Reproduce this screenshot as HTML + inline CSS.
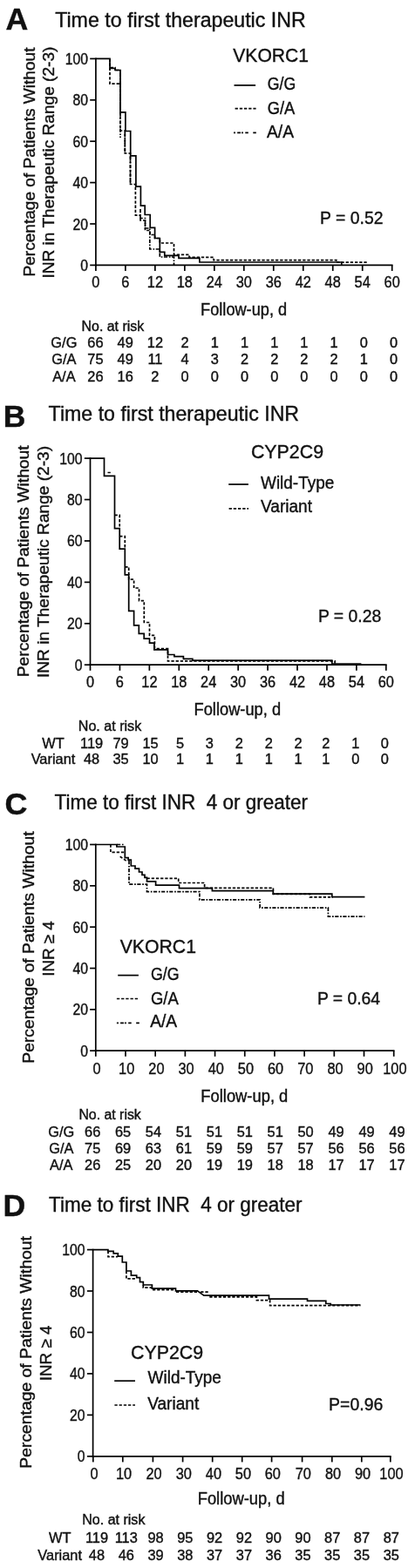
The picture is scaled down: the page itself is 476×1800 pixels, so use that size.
<!DOCTYPE html>
<html lang="en"><head><meta charset="utf-8"><title>Figure</title>
<style>
html,body{margin:0;padding:0;background:#fff;}
svg{display:block;}
text{font-family:"Liberation Sans", Arial, sans-serif;fill:#111;stroke:#111;stroke-width:0.4;}
line,path{stroke:#000;fill:none;stroke-linecap:butt;stroke-linejoin:miter;}
</style></head><body>
<svg width="476" height="1800" viewBox="0 0 476 1800">
<rect x="0" y="0" width="476" height="1800" fill="#ffffff" stroke="none"/>
<text x="6.6" y="34.4" font-size="34.3" font-weight="bold" textLength="25.8" lengthAdjust="spacingAndGlyphs">A</text>
<text x="63.2" y="30.8" font-size="23.93" textLength="287.5" lengthAdjust="spacingAndGlyphs">Time to first therapeutic INR</text>
<text transform="translate(39.6 186) rotate(-90)" font-size="19.0" text-anchor="middle" textLength="263" lengthAdjust="spacingAndGlyphs">Percentage of Patients Without</text>
<text transform="translate(62 186.6) rotate(-90)" font-size="19.0" text-anchor="middle" textLength="266" lengthAdjust="spacingAndGlyphs">INR in Therapeutic Range (2-3)</text>
<line x1="109.9" y1="66.55000000000001" x2="109.9" y2="305.25" stroke-width="1.7"/>
<line x1="109.05000000000001" y1="304.4" x2="450.55" y2="304.4" stroke-width="1.7"/>
<line x1="103.2" y1="67.4" x2="109.9" y2="67.4" stroke-width="1.7"/>
<text x="101.0" y="73.9" font-size="17.49" text-anchor="end" textLength="26.26" lengthAdjust="spacingAndGlyphs">100</text>
<line x1="103.2" y1="114.8" x2="109.9" y2="114.8" stroke-width="1.7"/>
<text x="101.0" y="121.3" font-size="17.49" text-anchor="end" textLength="17.51" lengthAdjust="spacingAndGlyphs">80</text>
<line x1="103.2" y1="162.2" x2="109.9" y2="162.2" stroke-width="1.7"/>
<text x="101.0" y="168.7" font-size="17.49" text-anchor="end" textLength="17.51" lengthAdjust="spacingAndGlyphs">60</text>
<line x1="103.2" y1="209.6" x2="109.9" y2="209.6" stroke-width="1.7"/>
<text x="101.0" y="216.1" font-size="17.49" text-anchor="end" textLength="17.51" lengthAdjust="spacingAndGlyphs">40</text>
<line x1="103.2" y1="257.0" x2="109.9" y2="257.0" stroke-width="1.7"/>
<text x="101.0" y="263.5" font-size="17.49" text-anchor="end" textLength="17.51" lengthAdjust="spacingAndGlyphs">20</text>
<line x1="103.2" y1="304.4" x2="109.9" y2="304.4" stroke-width="1.7"/>
<text x="101.0" y="310.9" font-size="17.49" text-anchor="end" textLength="8.75" lengthAdjust="spacingAndGlyphs">0</text>
<line x1="109.9" y1="304.4" x2="109.9" y2="311.0" stroke-width="1.7"/>
<text x="109.9" y="330.2" font-size="18.15" text-anchor="middle" textLength="9.09" lengthAdjust="spacingAndGlyphs">0</text>
<line x1="143.88" y1="304.4" x2="143.88" y2="311.0" stroke-width="1.7"/>
<text x="143.9" y="330.2" font-size="18.15" text-anchor="middle" textLength="9.09" lengthAdjust="spacingAndGlyphs">6</text>
<line x1="177.86" y1="304.4" x2="177.86" y2="311.0" stroke-width="1.7"/>
<text x="177.9" y="330.2" font-size="18.15" text-anchor="middle" textLength="18.17" lengthAdjust="spacingAndGlyphs">12</text>
<line x1="211.83999999999997" y1="304.4" x2="211.83999999999997" y2="311.0" stroke-width="1.7"/>
<text x="211.8" y="330.2" font-size="18.15" text-anchor="middle" textLength="18.17" lengthAdjust="spacingAndGlyphs">18</text>
<line x1="245.82" y1="304.4" x2="245.82" y2="311.0" stroke-width="1.7"/>
<text x="245.8" y="330.2" font-size="18.15" text-anchor="middle" textLength="18.17" lengthAdjust="spacingAndGlyphs">24</text>
<line x1="279.79999999999995" y1="304.4" x2="279.79999999999995" y2="311.0" stroke-width="1.7"/>
<text x="279.8" y="330.2" font-size="18.15" text-anchor="middle" textLength="18.17" lengthAdjust="spacingAndGlyphs">30</text>
<line x1="313.78" y1="304.4" x2="313.78" y2="311.0" stroke-width="1.7"/>
<text x="313.8" y="330.2" font-size="18.15" text-anchor="middle" textLength="18.17" lengthAdjust="spacingAndGlyphs">36</text>
<line x1="347.76" y1="304.4" x2="347.76" y2="311.0" stroke-width="1.7"/>
<text x="347.8" y="330.2" font-size="18.15" text-anchor="middle" textLength="18.17" lengthAdjust="spacingAndGlyphs">42</text>
<line x1="381.74" y1="304.4" x2="381.74" y2="311.0" stroke-width="1.7"/>
<text x="381.7" y="330.2" font-size="18.15" text-anchor="middle" textLength="18.17" lengthAdjust="spacingAndGlyphs">48</text>
<line x1="415.72" y1="304.4" x2="415.72" y2="311.0" stroke-width="1.7"/>
<text x="415.7" y="330.2" font-size="18.15" text-anchor="middle" textLength="18.17" lengthAdjust="spacingAndGlyphs">54</text>
<line x1="449.69999999999993" y1="304.4" x2="449.69999999999993" y2="311.0" stroke-width="1.7"/>
<text x="449.7" y="330.2" font-size="18.15" text-anchor="middle" textLength="18.17" lengthAdjust="spacingAndGlyphs">60</text>
<text x="279.6" y="362.2" font-size="19.8" text-anchor="middle" textLength="99" lengthAdjust="spacingAndGlyphs">Follow-up, d</text>
<text x="267.3" y="70.8" font-size="22.88" textLength="86.8" lengthAdjust="spacingAndGlyphs">VKORC1</text>
<line x1="268.5" y1="97.9" x2="293.1" y2="97.9" stroke-width="1.7"/>
<line x1="269.6" y1="124.6" x2="293.6" y2="124.6" stroke-width="1.7" stroke-dasharray="3.3 1.9"/>
<line x1="268" y1="152.4" x2="293.8" y2="152.4" stroke-width="1.7" stroke-dasharray="2 2.2 3.8 1 2 2.3 3.5 5.5 3.6 2"/>
<text x="306.8" y="103" font-size="19.8" textLength="32.4" lengthAdjust="spacingAndGlyphs">G/G</text>
<text x="306.8" y="130.5" font-size="19.8" textLength="31.5" lengthAdjust="spacingAndGlyphs">G/A</text>
<text x="306.0" y="157.6" font-size="19.8" textLength="31" lengthAdjust="spacingAndGlyphs">A/A</text>
<text x="367.1" y="256.5" font-size="21.01" textLength="72.4" lengthAdjust="spacingAndGlyphs">P = 0.52</text>
<path d="M110,67.4 H126 V78.5 H132 V80.5 H138 V128.8 H143.9 V150.5 H149.7 V178.8 H155.9 V214.1 H161.4 V236.1 H166.2 V246.5 H172.2 V261.3 H177.6 V273.5 H183.3 V289.3 H188.8 V293.3 H205 V296.4 H228.9 V301 H391.8 V304" stroke-width="1.7"/>
<path d="M126,67.4 V96.2 H138 V150 H143.3 V176 H149.5 V211.5 H155.4 V247.2 H161 V253 H166.5 V264.5 H172 V269.5 H177.6 V273.5 H183.4 V279 H199.5 V292.3 H217 V295.3 H245 V298.6 H385.8 V301.2 H421.7" stroke-width="1.7" stroke-dasharray="3.3 1.9"/>
<path d="M126,77.6 H132 V80.5 H138 V158 M143.3,152 V176 M149.5,180 V210 M161,240 V250.5 H166.5 V262 H171.8 V286 H183.3 V295 H199.5 V304" stroke-width="1.7" stroke-dasharray="4.2 1.7 1.7 1.5"/>
<text x="93.6" y="379.6" font-size="15.84" textLength="71.6" lengthAdjust="spacingAndGlyphs">No. at risk</text>
<text x="73.4" y="399.1" font-size="16.38" text-anchor="middle" textLength="30.03" lengthAdjust="spacingAndGlyphs">G/G</text>
<text x="109.5" y="399.1" font-size="16.38" text-anchor="middle" textLength="18.22" lengthAdjust="spacingAndGlyphs">66</text>
<text x="143.7" y="399.1" font-size="16.38" text-anchor="middle" textLength="18.22" lengthAdjust="spacingAndGlyphs">49</text>
<text x="177.9" y="399.1" font-size="16.38" text-anchor="middle" textLength="18.22" lengthAdjust="spacingAndGlyphs">12</text>
<text x="212.1" y="399.1" font-size="16.38" text-anchor="middle" textLength="9.11" lengthAdjust="spacingAndGlyphs">2</text>
<text x="246.3" y="399.1" font-size="16.38" text-anchor="middle" textLength="9.11" lengthAdjust="spacingAndGlyphs">1</text>
<text x="280.5" y="399.1" font-size="16.38" text-anchor="middle" textLength="9.11" lengthAdjust="spacingAndGlyphs">1</text>
<text x="314.7" y="399.1" font-size="16.38" text-anchor="middle" textLength="9.11" lengthAdjust="spacingAndGlyphs">1</text>
<text x="348.9" y="399.1" font-size="16.38" text-anchor="middle" textLength="9.11" lengthAdjust="spacingAndGlyphs">1</text>
<text x="383.1" y="399.1" font-size="16.38" text-anchor="middle" textLength="9.11" lengthAdjust="spacingAndGlyphs">1</text>
<text x="417.3" y="399.1" font-size="16.38" text-anchor="middle" textLength="9.11" lengthAdjust="spacingAndGlyphs">0</text>
<text x="451.5" y="399.1" font-size="16.38" text-anchor="middle" textLength="9.11" lengthAdjust="spacingAndGlyphs">0</text>
<text x="73.4" y="418.4" font-size="16.38" text-anchor="middle" textLength="28.22" lengthAdjust="spacingAndGlyphs">G/A</text>
<text x="109.5" y="418.4" font-size="16.38" text-anchor="middle" textLength="18.22" lengthAdjust="spacingAndGlyphs">75</text>
<text x="143.7" y="418.4" font-size="16.38" text-anchor="middle" textLength="18.22" lengthAdjust="spacingAndGlyphs">49</text>
<text x="177.9" y="418.4" font-size="16.38" text-anchor="middle" textLength="17.0" lengthAdjust="spacingAndGlyphs">11</text>
<text x="212.1" y="418.4" font-size="16.38" text-anchor="middle" textLength="9.11" lengthAdjust="spacingAndGlyphs">4</text>
<text x="246.3" y="418.4" font-size="16.38" text-anchor="middle" textLength="9.11" lengthAdjust="spacingAndGlyphs">3</text>
<text x="280.5" y="418.4" font-size="16.38" text-anchor="middle" textLength="9.11" lengthAdjust="spacingAndGlyphs">2</text>
<text x="314.7" y="418.4" font-size="16.38" text-anchor="middle" textLength="9.11" lengthAdjust="spacingAndGlyphs">2</text>
<text x="348.9" y="418.4" font-size="16.38" text-anchor="middle" textLength="9.11" lengthAdjust="spacingAndGlyphs">2</text>
<text x="383.1" y="418.4" font-size="16.38" text-anchor="middle" textLength="9.11" lengthAdjust="spacingAndGlyphs">2</text>
<text x="417.3" y="418.4" font-size="16.38" text-anchor="middle" textLength="9.11" lengthAdjust="spacingAndGlyphs">1</text>
<text x="451.5" y="418.4" font-size="16.38" text-anchor="middle" textLength="9.11" lengthAdjust="spacingAndGlyphs">0</text>
<text x="73.4" y="437.8" font-size="16.38" text-anchor="middle" textLength="26.4" lengthAdjust="spacingAndGlyphs">A/A</text>
<text x="109.5" y="437.8" font-size="16.38" text-anchor="middle" textLength="18.22" lengthAdjust="spacingAndGlyphs">26</text>
<text x="143.7" y="437.8" font-size="16.38" text-anchor="middle" textLength="18.22" lengthAdjust="spacingAndGlyphs">16</text>
<text x="177.9" y="437.8" font-size="16.38" text-anchor="middle" textLength="9.11" lengthAdjust="spacingAndGlyphs">2</text>
<text x="212.1" y="437.8" font-size="16.38" text-anchor="middle" textLength="9.11" lengthAdjust="spacingAndGlyphs">0</text>
<text x="246.3" y="437.8" font-size="16.38" text-anchor="middle" textLength="9.11" lengthAdjust="spacingAndGlyphs">0</text>
<text x="280.5" y="437.8" font-size="16.38" text-anchor="middle" textLength="9.11" lengthAdjust="spacingAndGlyphs">0</text>
<text x="314.7" y="437.8" font-size="16.38" text-anchor="middle" textLength="9.11" lengthAdjust="spacingAndGlyphs">0</text>
<text x="348.9" y="437.8" font-size="16.38" text-anchor="middle" textLength="9.11" lengthAdjust="spacingAndGlyphs">0</text>
<text x="383.1" y="437.8" font-size="16.38" text-anchor="middle" textLength="9.11" lengthAdjust="spacingAndGlyphs">0</text>
<text x="417.3" y="437.8" font-size="16.38" text-anchor="middle" textLength="9.11" lengthAdjust="spacingAndGlyphs">0</text>
<text x="451.5" y="437.8" font-size="16.38" text-anchor="middle" textLength="9.11" lengthAdjust="spacingAndGlyphs">0</text>
<text x="3.8" y="489.7" font-size="34.8" font-weight="bold" textLength="25.63" lengthAdjust="spacingAndGlyphs">B</text>
<text x="55.6" y="483.1" font-size="23.93" textLength="287.5" lengthAdjust="spacingAndGlyphs">Time to first therapeutic INR</text>
<text transform="translate(33.2 644.3) rotate(-90)" font-size="19.0" text-anchor="middle" textLength="266" lengthAdjust="spacingAndGlyphs">Percentage of Patients Without</text>
<text transform="translate(55.6 645) rotate(-90)" font-size="19.0" text-anchor="middle" textLength="266" lengthAdjust="spacingAndGlyphs">INR in Therapeutic Range (2-3)</text>
<line x1="103.5" y1="525.25" x2="103.5" y2="764.0500000000001" stroke-width="1.7"/>
<line x1="102.65" y1="763.2" x2="443.65000000000003" y2="763.2" stroke-width="1.7"/>
<line x1="96.8" y1="526.1" x2="103.5" y2="526.1" stroke-width="1.7"/>
<text x="94.60000000000001" y="532.6" font-size="17.49" text-anchor="end" textLength="26.26" lengthAdjust="spacingAndGlyphs">100</text>
<line x1="96.8" y1="573.52" x2="103.5" y2="573.52" stroke-width="1.7"/>
<text x="94.60000000000001" y="580.0" font-size="17.49" text-anchor="end" textLength="17.51" lengthAdjust="spacingAndGlyphs">80</text>
<line x1="96.8" y1="620.94" x2="103.5" y2="620.94" stroke-width="1.7"/>
<text x="94.60000000000001" y="627.4" font-size="17.49" text-anchor="end" textLength="17.51" lengthAdjust="spacingAndGlyphs">60</text>
<line x1="96.8" y1="668.36" x2="103.5" y2="668.36" stroke-width="1.7"/>
<text x="94.60000000000001" y="674.9" font-size="17.49" text-anchor="end" textLength="17.51" lengthAdjust="spacingAndGlyphs">40</text>
<line x1="96.8" y1="715.78" x2="103.5" y2="715.78" stroke-width="1.7"/>
<text x="94.60000000000001" y="722.3" font-size="17.49" text-anchor="end" textLength="17.51" lengthAdjust="spacingAndGlyphs">20</text>
<line x1="96.8" y1="763.2" x2="103.5" y2="763.2" stroke-width="1.7"/>
<text x="94.60000000000001" y="769.7" font-size="17.49" text-anchor="end" textLength="8.75" lengthAdjust="spacingAndGlyphs">0</text>
<line x1="103.5" y1="763.2" x2="103.5" y2="769.8000000000001" stroke-width="1.7"/>
<text x="103.5" y="788.5" font-size="18.15" text-anchor="middle" textLength="9.09" lengthAdjust="spacingAndGlyphs">0</text>
<line x1="137.43" y1="763.2" x2="137.43" y2="769.8000000000001" stroke-width="1.7"/>
<text x="137.4" y="788.5" font-size="18.15" text-anchor="middle" textLength="9.09" lengthAdjust="spacingAndGlyphs">6</text>
<line x1="171.36" y1="763.2" x2="171.36" y2="769.8000000000001" stroke-width="1.7"/>
<text x="171.4" y="788.5" font-size="18.15" text-anchor="middle" textLength="18.17" lengthAdjust="spacingAndGlyphs">12</text>
<line x1="205.29000000000002" y1="763.2" x2="205.29000000000002" y2="769.8000000000001" stroke-width="1.7"/>
<text x="205.3" y="788.5" font-size="18.15" text-anchor="middle" textLength="18.17" lengthAdjust="spacingAndGlyphs">18</text>
<line x1="239.22" y1="763.2" x2="239.22" y2="769.8000000000001" stroke-width="1.7"/>
<text x="239.2" y="788.5" font-size="18.15" text-anchor="middle" textLength="18.17" lengthAdjust="spacingAndGlyphs">24</text>
<line x1="273.15" y1="763.2" x2="273.15" y2="769.8000000000001" stroke-width="1.7"/>
<text x="273.1" y="788.5" font-size="18.15" text-anchor="middle" textLength="18.17" lengthAdjust="spacingAndGlyphs">30</text>
<line x1="307.08000000000004" y1="763.2" x2="307.08000000000004" y2="769.8000000000001" stroke-width="1.7"/>
<text x="307.1" y="788.5" font-size="18.15" text-anchor="middle" textLength="18.17" lengthAdjust="spacingAndGlyphs">36</text>
<line x1="341.01" y1="763.2" x2="341.01" y2="769.8000000000001" stroke-width="1.7"/>
<text x="341.0" y="788.5" font-size="18.15" text-anchor="middle" textLength="18.17" lengthAdjust="spacingAndGlyphs">42</text>
<line x1="374.94" y1="763.2" x2="374.94" y2="769.8000000000001" stroke-width="1.7"/>
<text x="374.9" y="788.5" font-size="18.15" text-anchor="middle" textLength="18.17" lengthAdjust="spacingAndGlyphs">48</text>
<line x1="408.87" y1="763.2" x2="408.87" y2="769.8000000000001" stroke-width="1.7"/>
<text x="408.9" y="788.5" font-size="18.15" text-anchor="middle" textLength="18.17" lengthAdjust="spacingAndGlyphs">54</text>
<line x1="442.8" y1="763.2" x2="442.8" y2="769.8000000000001" stroke-width="1.7"/>
<text x="442.8" y="788.5" font-size="18.15" text-anchor="middle" textLength="18.17" lengthAdjust="spacingAndGlyphs">60</text>
<text x="272.3" y="821.3" font-size="19.8" text-anchor="middle" textLength="99.5" lengthAdjust="spacingAndGlyphs">Follow-up, d</text>
<text x="287.9" y="526.3" font-size="22.88" textLength="83.2" lengthAdjust="spacingAndGlyphs">CYP2C9</text>
<line x1="262.2" y1="556" x2="284.9" y2="556" stroke-width="1.7"/>
<line x1="262.6" y1="583.8" x2="285" y2="583.8" stroke-width="1.7" stroke-dasharray="3.3 1.9"/>
<text x="299" y="560.6" font-size="20.24" textLength="84.3" lengthAdjust="spacingAndGlyphs">Wild-Type</text>
<text x="299" y="588.3" font-size="20.24" textLength="59" lengthAdjust="spacingAndGlyphs">Variant</text>
<text x="364.9" y="714.0" font-size="21.01" textLength="72.4" lengthAdjust="spacingAndGlyphs">P = 0.28</text>
<path d="M103.5,526.1 H119.5 V546.4 H131.5 V606.6 H137.2 V630.1 H143.3 V659.8 H147.7 V701.3 H153.6 V717.8 H159.3 V727.3 H165.2 V733.2 H171.5 V738.2 H176.9 V745.8 H192.5 V751.5 H199.9 V753.6 H210.4 V756.3 H220.9 V758.1 H380.8 V762 H414.4" stroke-width="1.7"/>
<path d="M123.5,542.5 H127 M131.5,591.4 H137.2 V606.6 M137.2,615.6 H143.3 V630 M143.3,650.8 H147.7 V665.2 H153.6 V675 H159.5 V689.6 H165.3 V714.5 H171.5 V729.4 H177.4 V744.5 H192.5 V758.9 H384.1 V763" stroke-width="1.7" stroke-dasharray="3.3 1.9"/>
<text x="89.8" y="838.9" font-size="15.84" textLength="72.4" lengthAdjust="spacingAndGlyphs">No. at risk</text>
<text x="61" y="859.0" font-size="16.38" text-anchor="middle" textLength="25.47" lengthAdjust="spacingAndGlyphs">WT</text>
<text x="105.1" y="859.0" font-size="16.38" text-anchor="middle" textLength="26.11" lengthAdjust="spacingAndGlyphs">119</text>
<text x="138.6" y="859.0" font-size="16.38" text-anchor="middle" textLength="18.22" lengthAdjust="spacingAndGlyphs">79</text>
<text x="172.6" y="859.0" font-size="16.38" text-anchor="middle" textLength="18.22" lengthAdjust="spacingAndGlyphs">15</text>
<text x="206.5" y="859.0" font-size="16.38" text-anchor="middle" textLength="9.11" lengthAdjust="spacingAndGlyphs">5</text>
<text x="240.4" y="859.0" font-size="16.38" text-anchor="middle" textLength="9.11" lengthAdjust="spacingAndGlyphs">3</text>
<text x="274.3" y="859.0" font-size="16.38" text-anchor="middle" textLength="9.11" lengthAdjust="spacingAndGlyphs">2</text>
<text x="308.3" y="859.0" font-size="16.38" text-anchor="middle" textLength="9.11" lengthAdjust="spacingAndGlyphs">2</text>
<text x="342.0" y="859.0" font-size="16.38" text-anchor="middle" textLength="9.11" lengthAdjust="spacingAndGlyphs">2</text>
<text x="373.9" y="859.0" font-size="16.38" text-anchor="middle" textLength="9.11" lengthAdjust="spacingAndGlyphs">2</text>
<text x="407.7" y="859.0" font-size="16.38" text-anchor="middle" textLength="9.11" lengthAdjust="spacingAndGlyphs">1</text>
<text x="441.4" y="859.0" font-size="16.38" text-anchor="middle" textLength="9.11" lengthAdjust="spacingAndGlyphs">0</text>
<text x="61" y="877" font-size="16.38" text-anchor="middle" textLength="50.69" lengthAdjust="spacingAndGlyphs">Variant</text>
<text x="105.1" y="877" font-size="16.38" text-anchor="middle" textLength="18.22" lengthAdjust="spacingAndGlyphs">48</text>
<text x="138.6" y="877" font-size="16.38" text-anchor="middle" textLength="18.22" lengthAdjust="spacingAndGlyphs">35</text>
<text x="172.6" y="877" font-size="16.38" text-anchor="middle" textLength="18.22" lengthAdjust="spacingAndGlyphs">10</text>
<text x="206.5" y="877" font-size="16.38" text-anchor="middle" textLength="9.11" lengthAdjust="spacingAndGlyphs">1</text>
<text x="240.4" y="877" font-size="16.38" text-anchor="middle" textLength="9.11" lengthAdjust="spacingAndGlyphs">1</text>
<text x="274.3" y="877" font-size="16.38" text-anchor="middle" textLength="9.11" lengthAdjust="spacingAndGlyphs">1</text>
<text x="308.3" y="877" font-size="16.38" text-anchor="middle" textLength="9.11" lengthAdjust="spacingAndGlyphs">1</text>
<text x="342.0" y="877" font-size="16.38" text-anchor="middle" textLength="9.11" lengthAdjust="spacingAndGlyphs">1</text>
<text x="373.9" y="877" font-size="16.38" text-anchor="middle" textLength="9.11" lengthAdjust="spacingAndGlyphs">1</text>
<text x="407.7" y="877" font-size="16.38" text-anchor="middle" textLength="9.11" lengthAdjust="spacingAndGlyphs">0</text>
<text x="441.4" y="877" font-size="16.38" text-anchor="middle" textLength="9.11" lengthAdjust="spacingAndGlyphs">0</text>
<text x="5.6" y="935.2" font-size="35.2" font-weight="bold" textLength="25.93" lengthAdjust="spacingAndGlyphs">C</text>
<text x="62.5" y="929.0" font-size="23.93" textLength="290.5" lengthAdjust="spacingAndGlyphs">Time to first INR  4 or greater</text>
<text transform="translate(39.3 1087.5) rotate(-90)" font-size="19.0" text-anchor="middle" textLength="266.5" lengthAdjust="spacingAndGlyphs">Percentage of Patients Without</text>
<text transform="translate(62.4 1089) rotate(-90)" font-size="19.0" text-anchor="middle" textLength="63.5" lengthAdjust="spacingAndGlyphs">INR ≥ 4</text>
<line x1="109.8" y1="968.65" x2="109.8" y2="1207.05" stroke-width="1.7"/>
<line x1="108.95" y1="1206.2" x2="452.55" y2="1206.2" stroke-width="1.7"/>
<line x1="103.1" y1="969.5" x2="109.8" y2="969.5" stroke-width="1.7"/>
<text x="101.0" y="976.0" font-size="17.49" text-anchor="end" textLength="26.26" lengthAdjust="spacingAndGlyphs">100</text>
<line x1="103.1" y1="1016.84" x2="109.8" y2="1016.84" stroke-width="1.7"/>
<text x="101.0" y="1023.3" font-size="17.49" text-anchor="end" textLength="17.51" lengthAdjust="spacingAndGlyphs">80</text>
<line x1="103.1" y1="1064.18" x2="109.8" y2="1064.18" stroke-width="1.7"/>
<text x="101.0" y="1070.7" font-size="17.49" text-anchor="end" textLength="17.51" lengthAdjust="spacingAndGlyphs">60</text>
<line x1="103.1" y1="1111.52" x2="109.8" y2="1111.52" stroke-width="1.7"/>
<text x="101.0" y="1118.0" font-size="17.49" text-anchor="end" textLength="17.51" lengthAdjust="spacingAndGlyphs">40</text>
<line x1="103.1" y1="1158.8600000000001" x2="109.8" y2="1158.8600000000001" stroke-width="1.7"/>
<text x="101.0" y="1165.4" font-size="17.49" text-anchor="end" textLength="17.51" lengthAdjust="spacingAndGlyphs">20</text>
<line x1="103.1" y1="1206.2" x2="109.8" y2="1206.2" stroke-width="1.7"/>
<text x="101.0" y="1212.7" font-size="17.49" text-anchor="end" textLength="8.75" lengthAdjust="spacingAndGlyphs">0</text>
<line x1="109.8" y1="1206.2" x2="109.8" y2="1212.8" stroke-width="1.7"/>
<text x="111.0" y="1232.6" font-size="18.15" text-anchor="middle" textLength="9.09" lengthAdjust="spacingAndGlyphs">0</text>
<line x1="143.99" y1="1206.2" x2="143.99" y2="1212.8" stroke-width="1.7"/>
<text x="145.2" y="1232.6" font-size="18.15" text-anchor="middle" textLength="18.17" lengthAdjust="spacingAndGlyphs">10</text>
<line x1="178.18" y1="1206.2" x2="178.18" y2="1212.8" stroke-width="1.7"/>
<text x="179.4" y="1232.6" font-size="18.15" text-anchor="middle" textLength="18.17" lengthAdjust="spacingAndGlyphs">20</text>
<line x1="212.36999999999998" y1="1206.2" x2="212.36999999999998" y2="1212.8" stroke-width="1.7"/>
<text x="213.6" y="1232.6" font-size="18.15" text-anchor="middle" textLength="18.17" lengthAdjust="spacingAndGlyphs">30</text>
<line x1="246.56" y1="1206.2" x2="246.56" y2="1212.8" stroke-width="1.7"/>
<text x="247.8" y="1232.6" font-size="18.15" text-anchor="middle" textLength="18.17" lengthAdjust="spacingAndGlyphs">40</text>
<line x1="280.75" y1="1206.2" x2="280.75" y2="1212.8" stroke-width="1.7"/>
<text x="281.9" y="1232.6" font-size="18.15" text-anchor="middle" textLength="18.17" lengthAdjust="spacingAndGlyphs">50</text>
<line x1="314.93999999999994" y1="1206.2" x2="314.93999999999994" y2="1212.8" stroke-width="1.7"/>
<text x="316.1" y="1232.6" font-size="18.15" text-anchor="middle" textLength="18.17" lengthAdjust="spacingAndGlyphs">60</text>
<line x1="349.13" y1="1206.2" x2="349.13" y2="1212.8" stroke-width="1.7"/>
<text x="350.3" y="1232.6" font-size="18.15" text-anchor="middle" textLength="18.17" lengthAdjust="spacingAndGlyphs">70</text>
<line x1="383.32" y1="1206.2" x2="383.32" y2="1212.8" stroke-width="1.7"/>
<text x="384.5" y="1232.6" font-size="18.15" text-anchor="middle" textLength="18.17" lengthAdjust="spacingAndGlyphs">80</text>
<line x1="417.51" y1="1206.2" x2="417.51" y2="1212.8" stroke-width="1.7"/>
<text x="418.7" y="1232.6" font-size="18.15" text-anchor="middle" textLength="18.17" lengthAdjust="spacingAndGlyphs">90</text>
<line x1="451.7" y1="1206.2" x2="451.7" y2="1212.8" stroke-width="1.7"/>
<text x="452.9" y="1232.6" font-size="18.15" text-anchor="middle" textLength="27.26" lengthAdjust="spacingAndGlyphs">100</text>
<text x="280.3" y="1264.9" font-size="19.8" text-anchor="middle" textLength="100" lengthAdjust="spacingAndGlyphs">Follow-up, d</text>
<text x="137.7" y="1094.4" font-size="22.88" textLength="87.3" lengthAdjust="spacingAndGlyphs">VKORC1</text>
<line x1="135.2" y1="1119.6" x2="158.9" y2="1119.6" stroke-width="1.7"/>
<line x1="133.9" y1="1146.5" x2="159.8" y2="1146.5" stroke-width="1.7" stroke-dasharray="3.3 1.9"/>
<line x1="133.9" y1="1174.4" x2="159.8" y2="1174.4" stroke-width="1.7" stroke-dasharray="2 2.2 3.8 1 2 2.3 3.5 5.5 3.6 2"/>
<text x="173" y="1125" font-size="19.8" textLength="32.6" lengthAdjust="spacingAndGlyphs">G/G</text>
<text x="173" y="1152.7" font-size="19.8" textLength="31.8" lengthAdjust="spacingAndGlyphs">G/A</text>
<text x="172.2" y="1178.6" font-size="19.8" textLength="31" lengthAdjust="spacingAndGlyphs">A/A</text>
<text x="363.9" y="1152.9" font-size="21.01" textLength="72.2" lengthAdjust="spacingAndGlyphs">P = 0.64</text>
<path d="M109.8,969.5 H133.9 V972 H143.3 V984.6 H147.1 V987.1 H150.3 V994 H155 V997.2 H159.5 V1001 H163 V1004.3 H166 V1007.4 H168.5 V1011.8 H178.6 V1016.2 H205.5 V1019.7 H243.4 V1022.6 H313.3 V1026.2 H380.8 V1029.7 H418.4" stroke-width="1.7"/>
<path d="M126.9,969.5 V978.3 H142.7 M137.7,983.3 L145.2,988.4 M168.5,1008.4 H204.7 V1013.5 H234.6 V1019.3 H313.4 V1026.4 H355.5 V1029.8 H382" stroke-width="1.7" stroke-dasharray="3.3 1.9"/>
<path d="M134,969.5 H143 M148,988 V1015.1 H168.5 V1023.7 H228.9 V1032.8 H298.1 V1042.1 H376.4 V1052.1 H418.4" stroke-width="1.7" stroke-dasharray="4.2 1.7 1.7 1.5"/>
<text x="90.4" y="1285.1" font-size="15.84" textLength="71.4" lengthAdjust="spacingAndGlyphs">No. at risk</text>
<text x="70.3" y="1305.1" font-size="16.38" text-anchor="middle" textLength="30.03" lengthAdjust="spacingAndGlyphs">G/G</text>
<text x="106.2" y="1305.1" font-size="16.38" text-anchor="middle" textLength="18.22" lengthAdjust="spacingAndGlyphs">66</text>
<text x="141.1" y="1305.1" font-size="16.38" text-anchor="middle" textLength="18.22" lengthAdjust="spacingAndGlyphs">65</text>
<text x="176.0" y="1305.1" font-size="16.38" text-anchor="middle" textLength="18.22" lengthAdjust="spacingAndGlyphs">54</text>
<text x="211.0" y="1305.1" font-size="16.38" text-anchor="middle" textLength="18.22" lengthAdjust="spacingAndGlyphs">51</text>
<text x="245.9" y="1305.1" font-size="16.38" text-anchor="middle" textLength="18.22" lengthAdjust="spacingAndGlyphs">51</text>
<text x="280.8" y="1305.1" font-size="16.38" text-anchor="middle" textLength="18.22" lengthAdjust="spacingAndGlyphs">51</text>
<text x="315.7" y="1305.1" font-size="16.38" text-anchor="middle" textLength="18.22" lengthAdjust="spacingAndGlyphs">51</text>
<text x="350.6" y="1305.1" font-size="16.38" text-anchor="middle" textLength="18.22" lengthAdjust="spacingAndGlyphs">50</text>
<text x="385.6" y="1305.1" font-size="16.38" text-anchor="middle" textLength="18.22" lengthAdjust="spacingAndGlyphs">49</text>
<text x="420.5" y="1305.1" font-size="16.38" text-anchor="middle" textLength="18.22" lengthAdjust="spacingAndGlyphs">49</text>
<text x="455.4" y="1305.1" font-size="16.38" text-anchor="middle" textLength="18.22" lengthAdjust="spacingAndGlyphs">49</text>
<text x="70.3" y="1324.1" font-size="16.38" text-anchor="middle" textLength="28.22" lengthAdjust="spacingAndGlyphs">G/A</text>
<text x="106.2" y="1324.1" font-size="16.38" text-anchor="middle" textLength="18.22" lengthAdjust="spacingAndGlyphs">75</text>
<text x="141.1" y="1324.1" font-size="16.38" text-anchor="middle" textLength="18.22" lengthAdjust="spacingAndGlyphs">69</text>
<text x="176.0" y="1324.1" font-size="16.38" text-anchor="middle" textLength="18.22" lengthAdjust="spacingAndGlyphs">63</text>
<text x="211.0" y="1324.1" font-size="16.38" text-anchor="middle" textLength="18.22" lengthAdjust="spacingAndGlyphs">61</text>
<text x="245.9" y="1324.1" font-size="16.38" text-anchor="middle" textLength="18.22" lengthAdjust="spacingAndGlyphs">59</text>
<text x="280.8" y="1324.1" font-size="16.38" text-anchor="middle" textLength="18.22" lengthAdjust="spacingAndGlyphs">59</text>
<text x="315.7" y="1324.1" font-size="16.38" text-anchor="middle" textLength="18.22" lengthAdjust="spacingAndGlyphs">57</text>
<text x="350.6" y="1324.1" font-size="16.38" text-anchor="middle" textLength="18.22" lengthAdjust="spacingAndGlyphs">57</text>
<text x="385.6" y="1324.1" font-size="16.38" text-anchor="middle" textLength="18.22" lengthAdjust="spacingAndGlyphs">56</text>
<text x="420.5" y="1324.1" font-size="16.38" text-anchor="middle" textLength="18.22" lengthAdjust="spacingAndGlyphs">56</text>
<text x="455.4" y="1324.1" font-size="16.38" text-anchor="middle" textLength="18.22" lengthAdjust="spacingAndGlyphs">56</text>
<text x="70.3" y="1343" font-size="16.38" text-anchor="middle" textLength="26.4" lengthAdjust="spacingAndGlyphs">A/A</text>
<text x="106.2" y="1343" font-size="16.38" text-anchor="middle" textLength="18.22" lengthAdjust="spacingAndGlyphs">26</text>
<text x="141.1" y="1343" font-size="16.38" text-anchor="middle" textLength="18.22" lengthAdjust="spacingAndGlyphs">25</text>
<text x="176.0" y="1343" font-size="16.38" text-anchor="middle" textLength="18.22" lengthAdjust="spacingAndGlyphs">20</text>
<text x="211.0" y="1343" font-size="16.38" text-anchor="middle" textLength="18.22" lengthAdjust="spacingAndGlyphs">20</text>
<text x="245.9" y="1343" font-size="16.38" text-anchor="middle" textLength="18.22" lengthAdjust="spacingAndGlyphs">19</text>
<text x="280.8" y="1343" font-size="16.38" text-anchor="middle" textLength="18.22" lengthAdjust="spacingAndGlyphs">19</text>
<text x="315.7" y="1343" font-size="16.38" text-anchor="middle" textLength="18.22" lengthAdjust="spacingAndGlyphs">18</text>
<text x="350.6" y="1343" font-size="16.38" text-anchor="middle" textLength="18.22" lengthAdjust="spacingAndGlyphs">18</text>
<text x="385.6" y="1343" font-size="16.38" text-anchor="middle" textLength="18.22" lengthAdjust="spacingAndGlyphs">17</text>
<text x="420.5" y="1343" font-size="16.38" text-anchor="middle" textLength="18.22" lengthAdjust="spacingAndGlyphs">17</text>
<text x="455.4" y="1343" font-size="16.38" text-anchor="middle" textLength="18.22" lengthAdjust="spacingAndGlyphs">17</text>
<text x="3.4" y="1396.0" font-size="35.0" font-weight="bold" textLength="25.78" lengthAdjust="spacingAndGlyphs">D</text>
<text x="56.0" y="1391.1" font-size="23.93" textLength="290.5" lengthAdjust="spacingAndGlyphs">Time to first INR  4 or greater</text>
<text transform="translate(35.8 1552.4) rotate(-90)" font-size="19.0" text-anchor="middle" textLength="266.5" lengthAdjust="spacingAndGlyphs">Percentage of Patients Without</text>
<text transform="translate(59.2 1553.4) rotate(-90)" font-size="19.0" text-anchor="middle" textLength="63.5" lengthAdjust="spacingAndGlyphs">INR ≥ 4</text>
<line x1="106.6" y1="1433.75" x2="106.6" y2="1672.6499999999999" stroke-width="1.7"/>
<line x1="105.75" y1="1671.8" x2="448.65000000000003" y2="1671.8" stroke-width="1.7"/>
<line x1="99.89999999999999" y1="1434.6" x2="106.6" y2="1434.6" stroke-width="1.7"/>
<text x="97.60000000000001" y="1441.1" font-size="17.49" text-anchor="end" textLength="26.26" lengthAdjust="spacingAndGlyphs">100</text>
<line x1="99.89999999999999" y1="1482.04" x2="106.6" y2="1482.04" stroke-width="1.7"/>
<text x="97.60000000000001" y="1488.5" font-size="17.49" text-anchor="end" textLength="17.51" lengthAdjust="spacingAndGlyphs">80</text>
<line x1="99.89999999999999" y1="1529.48" x2="106.6" y2="1529.48" stroke-width="1.7"/>
<text x="97.60000000000001" y="1536.0" font-size="17.49" text-anchor="end" textLength="17.51" lengthAdjust="spacingAndGlyphs">60</text>
<line x1="99.89999999999999" y1="1576.9199999999998" x2="106.6" y2="1576.9199999999998" stroke-width="1.7"/>
<text x="97.60000000000001" y="1583.4" font-size="17.49" text-anchor="end" textLength="17.51" lengthAdjust="spacingAndGlyphs">40</text>
<line x1="99.89999999999999" y1="1624.36" x2="106.6" y2="1624.36" stroke-width="1.7"/>
<text x="97.60000000000001" y="1630.9" font-size="17.49" text-anchor="end" textLength="17.51" lengthAdjust="spacingAndGlyphs">20</text>
<line x1="99.89999999999999" y1="1671.8" x2="106.6" y2="1671.8" stroke-width="1.7"/>
<text x="97.60000000000001" y="1678.3" font-size="17.49" text-anchor="end" textLength="8.75" lengthAdjust="spacingAndGlyphs">0</text>
<line x1="106.8" y1="1671.8" x2="106.8" y2="1678.3999999999999" stroke-width="1.7"/>
<text x="108.0" y="1697.8" font-size="18.15" text-anchor="middle" textLength="9.09" lengthAdjust="spacingAndGlyphs">0</text>
<line x1="140.8" y1="1671.8" x2="140.8" y2="1678.3999999999999" stroke-width="1.7"/>
<text x="142.0" y="1697.8" font-size="18.15" text-anchor="middle" textLength="18.17" lengthAdjust="spacingAndGlyphs">10</text>
<line x1="175.4" y1="1671.8" x2="175.4" y2="1678.3999999999999" stroke-width="1.7"/>
<text x="176.6" y="1697.8" font-size="18.15" text-anchor="middle" textLength="18.17" lengthAdjust="spacingAndGlyphs">20</text>
<line x1="209.6" y1="1671.8" x2="209.6" y2="1678.3999999999999" stroke-width="1.7"/>
<text x="210.8" y="1697.8" font-size="18.15" text-anchor="middle" textLength="18.17" lengthAdjust="spacingAndGlyphs">30</text>
<line x1="243.7" y1="1671.8" x2="243.7" y2="1678.3999999999999" stroke-width="1.7"/>
<text x="244.9" y="1697.8" font-size="18.15" text-anchor="middle" textLength="18.17" lengthAdjust="spacingAndGlyphs">40</text>
<line x1="277.7" y1="1671.8" x2="277.7" y2="1678.3999999999999" stroke-width="1.7"/>
<text x="278.9" y="1697.8" font-size="18.15" text-anchor="middle" textLength="18.17" lengthAdjust="spacingAndGlyphs">50</text>
<line x1="311.6" y1="1671.8" x2="311.6" y2="1678.3999999999999" stroke-width="1.7"/>
<text x="312.8" y="1697.8" font-size="18.15" text-anchor="middle" textLength="18.17" lengthAdjust="spacingAndGlyphs">60</text>
<line x1="346.6" y1="1671.8" x2="346.6" y2="1678.3999999999999" stroke-width="1.7"/>
<text x="347.8" y="1697.8" font-size="18.15" text-anchor="middle" textLength="18.17" lengthAdjust="spacingAndGlyphs">70</text>
<line x1="380.8" y1="1671.8" x2="380.8" y2="1678.3999999999999" stroke-width="1.7"/>
<text x="382.0" y="1697.8" font-size="18.15" text-anchor="middle" textLength="18.17" lengthAdjust="spacingAndGlyphs">80</text>
<line x1="414.8" y1="1671.8" x2="414.8" y2="1678.3999999999999" stroke-width="1.7"/>
<text x="416.0" y="1697.8" font-size="18.15" text-anchor="middle" textLength="18.17" lengthAdjust="spacingAndGlyphs">90</text>
<line x1="447.8" y1="1671.8" x2="447.8" y2="1678.3999999999999" stroke-width="1.7"/>
<text x="449.0" y="1697.8" font-size="18.15" text-anchor="middle" textLength="27.26" lengthAdjust="spacingAndGlyphs">100</text>
<text x="276.7" y="1727.4" font-size="19.8" text-anchor="middle" textLength="100" lengthAdjust="spacingAndGlyphs">Follow-up, d</text>
<text x="150" y="1560" font-size="22.88" textLength="83.2" lengthAdjust="spacingAndGlyphs">CYP2C9</text>
<line x1="131.2" y1="1585.2" x2="155" y2="1585.2" stroke-width="1.7"/>
<line x1="131.4" y1="1613" x2="155" y2="1613" stroke-width="1.7" stroke-dasharray="3.3 1.9"/>
<text x="169.6" y="1588.2" font-size="20.24" textLength="84.3" lengthAdjust="spacingAndGlyphs">Wild-Type</text>
<text x="169.2" y="1617.7" font-size="20.24" textLength="59" lengthAdjust="spacingAndGlyphs">Variant</text>
<text x="377.1" y="1618.9" font-size="21.01" textLength="62.3" lengthAdjust="spacingAndGlyphs">P=0.96</text>
<path d="M106.6,1434.6 H123.9 V1436.4 H130.2 V1438.9 H135.3 V1442.2 H140.3 V1449 H144.9 V1459 H150.4 V1464.1 H156.7 V1466.6 H160.5 V1471.7 H164.3 V1475 H174.4 V1479.2 H201.5 V1481.9 H226.4 L233.9,1487.2 H308.5 V1491.2 H352.5 V1493.4 H373.8 V1496.5 H379.2 V1498 H413.4" stroke-width="1.7"/>
<path d="M124,1436 V1442.7 H135 M144.9,1459 V1467.9 H156.7 M164.3,1475 V1478.2 H174.4 M175,1480.6 H201.5 M202,1483.2 H226 M230.2,1483.1 H240.3 M240.3,1488.8 H294.4 V1492.7 H309.6 V1498.7 H413.4" stroke-width="1.7" stroke-dasharray="3.3 1.9"/>
<text x="94.3" y="1750.4" font-size="15.84" textLength="72.1" lengthAdjust="spacingAndGlyphs">No. at risk</text>
<text x="68.7" y="1770.5" font-size="16.38" text-anchor="middle" textLength="25.47" lengthAdjust="spacingAndGlyphs">WT</text>
<text x="111.0" y="1770.5" font-size="16.38" text-anchor="middle" textLength="26.11" lengthAdjust="spacingAndGlyphs">119</text>
<text x="144.8" y="1770.5" font-size="16.38" text-anchor="middle" textLength="26.11" lengthAdjust="spacingAndGlyphs">113</text>
<text x="178.6" y="1770.5" font-size="16.38" text-anchor="middle" textLength="18.22" lengthAdjust="spacingAndGlyphs">98</text>
<text x="212.3" y="1770.5" font-size="16.38" text-anchor="middle" textLength="18.22" lengthAdjust="spacingAndGlyphs">95</text>
<text x="246.1" y="1770.5" font-size="16.38" text-anchor="middle" textLength="18.22" lengthAdjust="spacingAndGlyphs">92</text>
<text x="279.9" y="1770.5" font-size="16.38" text-anchor="middle" textLength="18.22" lengthAdjust="spacingAndGlyphs">92</text>
<text x="313.7" y="1770.5" font-size="16.38" text-anchor="middle" textLength="18.22" lengthAdjust="spacingAndGlyphs">90</text>
<text x="347.5" y="1770.5" font-size="16.38" text-anchor="middle" textLength="18.22" lengthAdjust="spacingAndGlyphs">90</text>
<text x="381.2" y="1770.5" font-size="16.38" text-anchor="middle" textLength="18.22" lengthAdjust="spacingAndGlyphs">87</text>
<text x="415.0" y="1770.5" font-size="16.38" text-anchor="middle" textLength="18.22" lengthAdjust="spacingAndGlyphs">87</text>
<text x="448.8" y="1770.5" font-size="16.38" text-anchor="middle" textLength="18.22" lengthAdjust="spacingAndGlyphs">87</text>
<text x="68.7" y="1790.7" font-size="16.38" text-anchor="middle" textLength="50.69" lengthAdjust="spacingAndGlyphs">Variant</text>
<text x="111.0" y="1790.7" font-size="16.38" text-anchor="middle" textLength="18.22" lengthAdjust="spacingAndGlyphs">48</text>
<text x="144.8" y="1790.7" font-size="16.38" text-anchor="middle" textLength="18.22" lengthAdjust="spacingAndGlyphs">46</text>
<text x="178.6" y="1790.7" font-size="16.38" text-anchor="middle" textLength="18.22" lengthAdjust="spacingAndGlyphs">39</text>
<text x="212.3" y="1790.7" font-size="16.38" text-anchor="middle" textLength="18.22" lengthAdjust="spacingAndGlyphs">38</text>
<text x="246.1" y="1790.7" font-size="16.38" text-anchor="middle" textLength="18.22" lengthAdjust="spacingAndGlyphs">37</text>
<text x="279.9" y="1790.7" font-size="16.38" text-anchor="middle" textLength="18.22" lengthAdjust="spacingAndGlyphs">37</text>
<text x="313.7" y="1790.7" font-size="16.38" text-anchor="middle" textLength="18.22" lengthAdjust="spacingAndGlyphs">36</text>
<text x="347.5" y="1790.7" font-size="16.38" text-anchor="middle" textLength="18.22" lengthAdjust="spacingAndGlyphs">35</text>
<text x="381.2" y="1790.7" font-size="16.38" text-anchor="middle" textLength="18.22" lengthAdjust="spacingAndGlyphs">35</text>
<text x="415.0" y="1790.7" font-size="16.38" text-anchor="middle" textLength="18.22" lengthAdjust="spacingAndGlyphs">35</text>
<text x="448.8" y="1790.7" font-size="16.38" text-anchor="middle" textLength="18.22" lengthAdjust="spacingAndGlyphs">35</text>
</svg>
</body></html>
